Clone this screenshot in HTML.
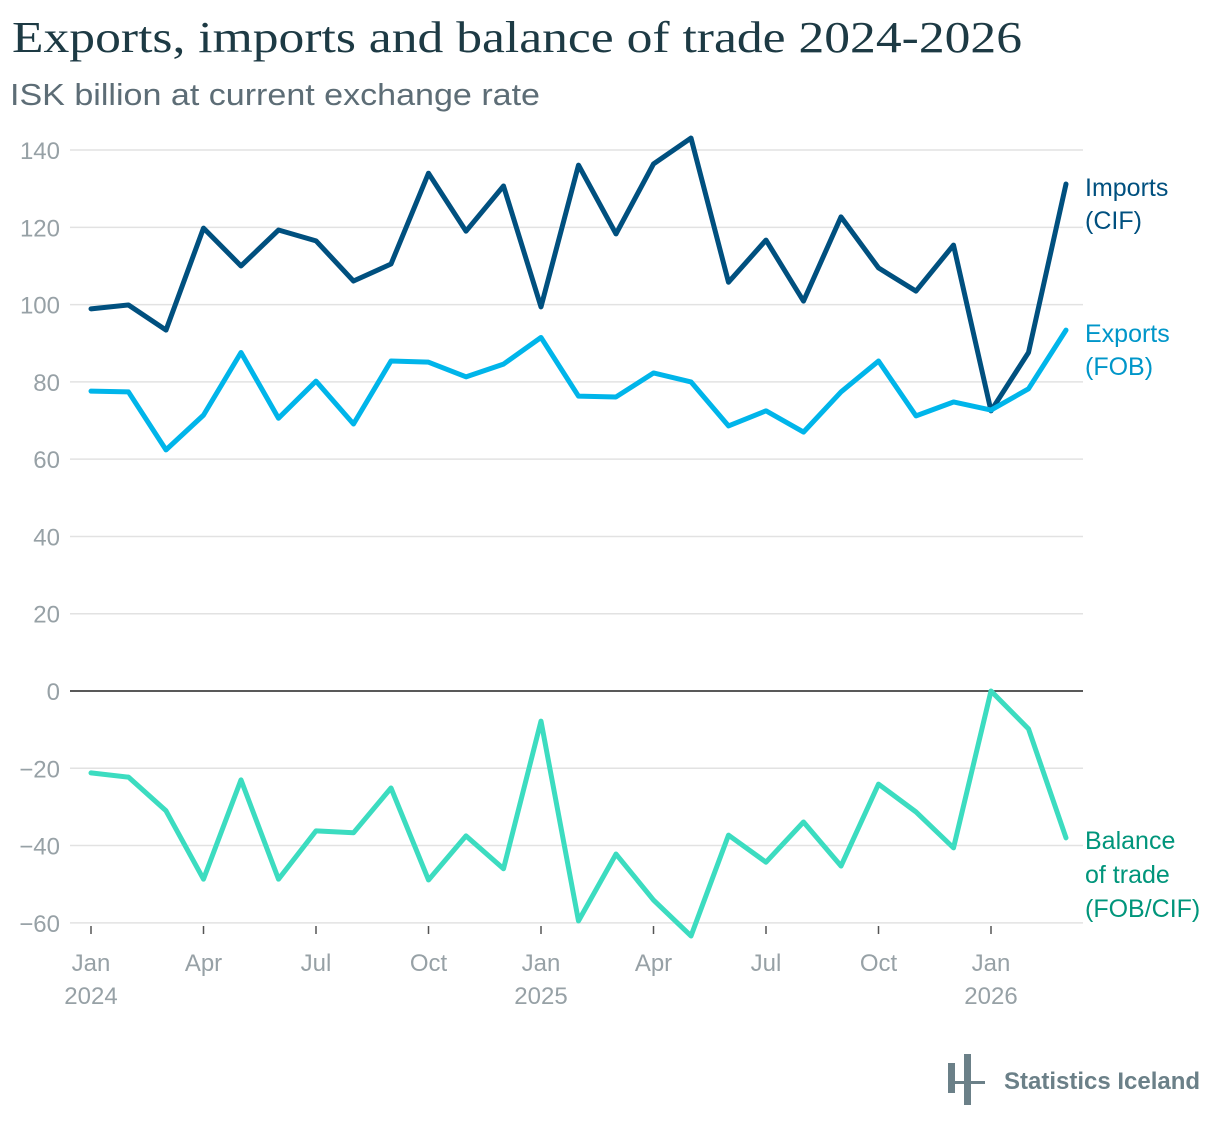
<!DOCTYPE html>
<html><head><meta charset="utf-8"><style>
body{margin:0;background:#fff;width:1220px;height:1130px;overflow:hidden}
svg text{font-family:"Liberation Sans",sans-serif}
</style></head><body>
<svg id="c" width="1220" height="1130">
<text x="12" y="52" font-size="44" fill="#1d3a44" textLength="1010" lengthAdjust="spacingAndGlyphs" style="font-family:'Liberation Serif',serif">Exports, imports and balance of trade 2024-2026</text>
<text x="10" y="105" font-size="31" fill="#5d6d76" textLength="530" lengthAdjust="spacingAndGlyphs">ISK billion at current exchange rate</text>
<g id="grid"></g><g id="lines"></g>
<text x="1085" y="196" font-size="25" fill="#00507f">Imports<tspan x="1085" dy="33">(CIF)</tspan></text>
<text x="1085" y="342" font-size="25" fill="#0096c9">Exports<tspan x="1085" dy="33">(FOB)</tspan></text>
<text x="1085" y="849" font-size="25" fill="#00957b">Balance<tspan x="1085" dy="34">of trade</tspan><tspan x="1085" dy="34">(FOB/CIF)</tspan></text>
<g>
<rect x="948" y="1063" width="7" height="30" fill="#6b8088"/><rect x="964" y="1054" width="7" height="51" fill="#6b8088"/><rect x="948" y="1081" width="37" height="3" fill="#6b8088"/>
<text x="1004" y="1089" font-size="24" font-weight="bold" fill="#6b8088">Statistics Iceland</text></g>
</svg>
<script>
const months=["Jan","Feb","Mar","Apr","May","Jun","Jul","Aug","Sep","Oct","Nov","Dec","Jan","Feb","Mar","Apr","May","Jun","Jul","Aug","Sep","Oct","Nov","Dec","Jan","Feb","Mar"];
const imports=[98.9,99.9,93.4,119.8,110,119.3,116.5,106.1,110.5,134,119,130.7,99.4,136.1,118.3,136.4,143.1,105.8,116.7,100.9,122.7,109.5,103.5,115.4,72.5,87.6,131.2];
const exportsV=[77.6,77.4,62.4,71.4,87.6,70.6,80.2,69.1,85.4,85.1,81.3,84.6,91.5,76.3,76.1,82.3,80,68.6,72.5,67,77.4,85.4,71.2,74.8,72.7,78.2,93.4];
const balance=[-21.2,-22.3,-31,-48.7,-23,-48.7,-36.2,-36.7,-25.1,-48.9,-37.5,-46,-7.8,-59.5,-42.2,-54.1,-63.4,-37.3,-44.3,-33.9,-45.3,-24.1,-31.3,-40.6,0,-9.8,-38];
const yTicks=[140,120,100,80,60,40,20,0,-20,-40,-60];
const xLabelIdx=[0,3,6,9,12,15,18,21,24];
const yearLabels={0:"2024",12:"2025",24:"2026"};
const X=i=>91+i*37.5, Y=v=>691-v*3.864;
const NS="http://www.w3.org/2000/svg";
const g=document.getElementById('grid'), L=document.getElementById('lines');
function mk(t,a,p){const e=document.createElementNS(NS,t);for(const k in a)e.setAttribute(k,a[k]);p.appendChild(e);return e;}
yTicks.forEach(v=>{
 const l=mk('line',{x1:70,x2:1083,y1:Y(v),y2:Y(v),stroke:v===0?'#222':'#e2e2e2','stroke-width':1.5},g);
 
 
 const t=mk('text',{x:60,y:Y(v)+9,'text-anchor':'end','font-size':24,fill:'#97a1a6'},g);
 t.textContent=v<0?'\u2212'+(-v):String(v);
 
 
});
xLabelIdx.forEach(i=>{
 mk('line',{x1:X(i),x2:X(i),y1:926,y2:934,stroke:'#555','stroke-width':1.5},g);
 const t=mk('text',{x:X(i),y:971,'text-anchor':'middle','font-size':24,fill:'#97a1a6'},g);
 t.textContent=months[i];
 
 
 if(yearLabels[i]){const y=mk('text',{x:X(i),y:1004,'text-anchor':'middle','font-size':24,fill:'#97a1a6'},g);y.textContent=yearLabels[i];
 
 }
});
[[imports,'#00507f','imports-line'],[exportsV,'#00b5ea','exports-line'],[balance,'#3cdcc0','balance-line']].forEach(([d,c,n])=>{
 const p=mk('polyline',{points:d.map((v,i)=>X(i)+','+Y(v)).join(' '),fill:'none',stroke:c,'stroke-width':5,'stroke-linejoin':'round','stroke-linecap':'round'},L);
 
 
});
</script>
</body></html>
